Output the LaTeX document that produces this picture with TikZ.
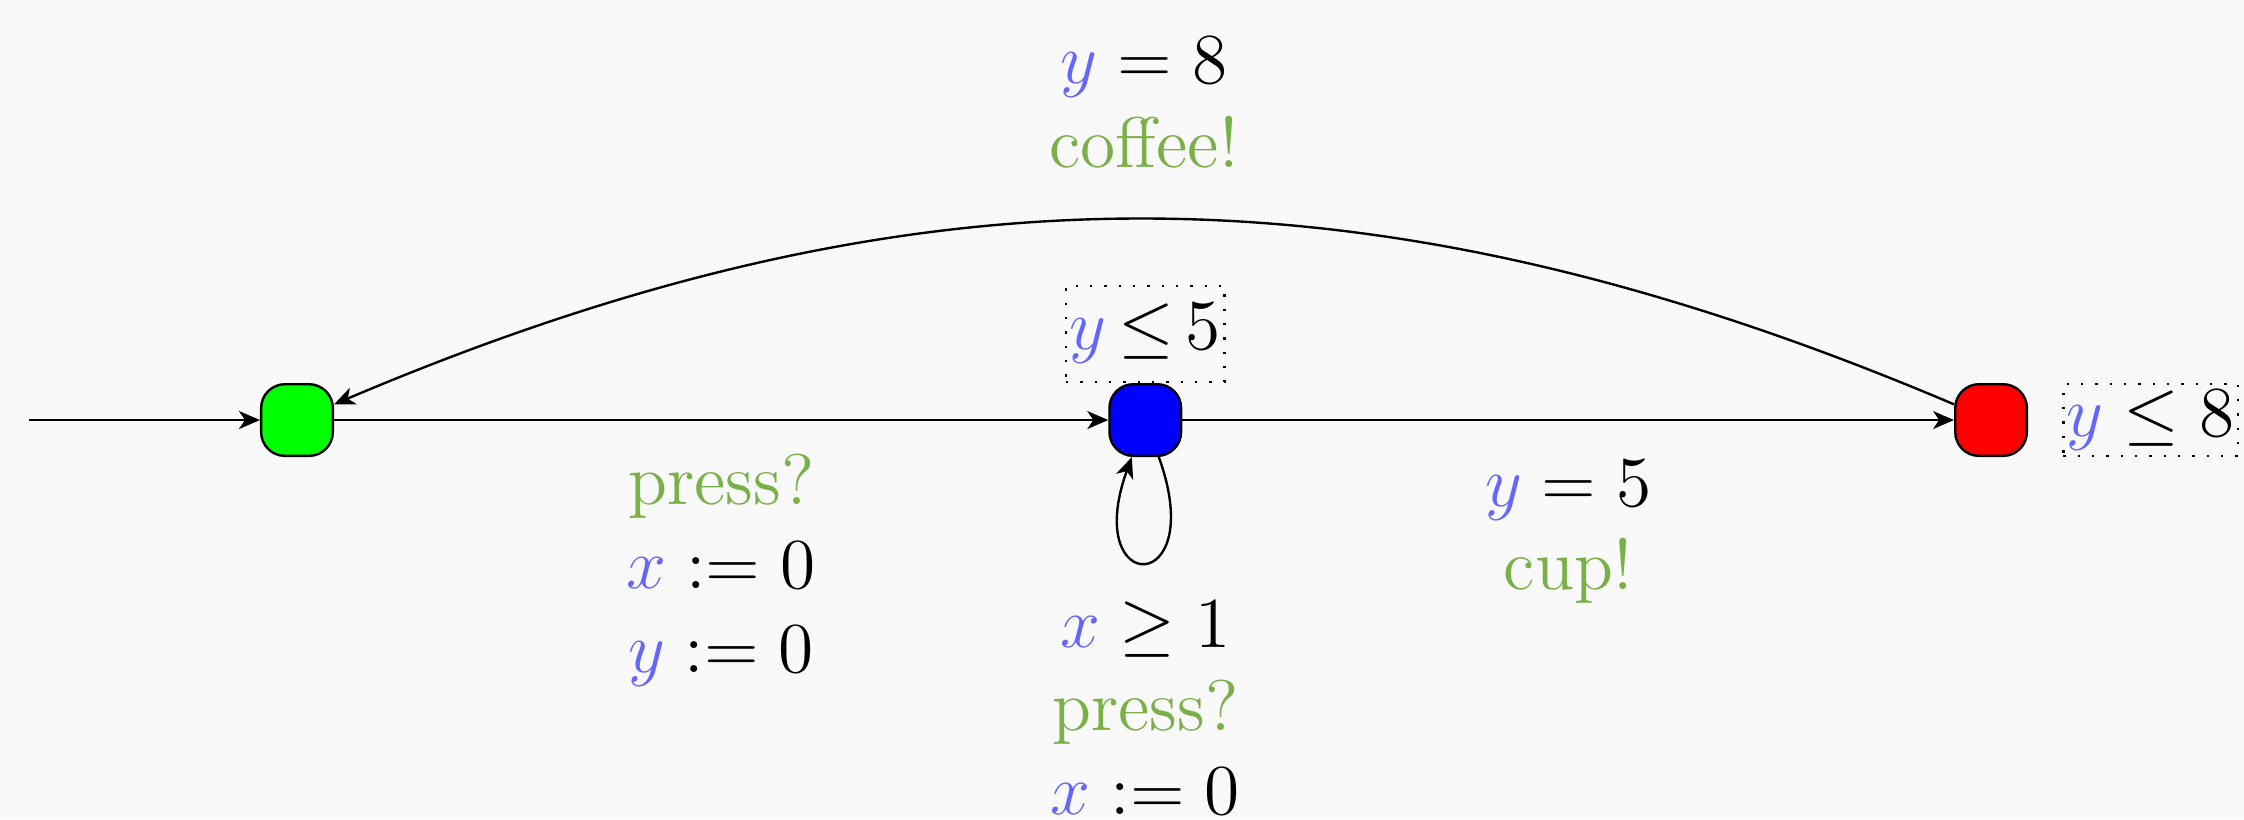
\documentclass[tikz,border=0pt]{standalone}
\usepackage{xcolor}
\usetikzlibrary{arrows.meta, positioning}
\definecolor{bgcol}{RGB}{249,249,249}
\definecolor{varcol}{RGB}{102,102,255}
\definecolor{actcol}{RGB}{122,176,72}
\definecolor{idlecol}{RGB}{0,255,0}
\definecolor{busycol}{RGB}{0,0,255}
\definecolor{brewcol}{RGB}{255,0,0}
\newcommand{\clk}[1]{\textcolor{varcol}{#1}}
\newcommand{\sync}[1]{\textcolor{actcol}{#1}}
\tikzset{
  loc/.style={draw, rounded corners=4pt, minimum size=12pt, inner sep=0pt},
  inv/.style={draw, dotted, inner xsep=0.6pt, inner ysep=1pt},
  guard/.style={align=center, inner sep=0pt}
}
\begin{document}
\begin{tikzpicture}[
    >={Stealth[length=3.5pt, width=3pt, inset=1pt]},
    font=\large
  ]

  % --- canvas -------------------------------------------------------------
  \fill[bgcol] (-1.747,-2.347) rectangle (11.453,2.471);
  \useasboundingbox (-1.747,-2.347) rectangle (11.453,2.471);

  % --- locations ------------------------------------------------------------
  \node[loc, fill=idlecol] (idle) at (0,0) {};
  \node[loc, fill=busycol] (busy) at (4.99,0) {};
  \node[loc, fill=brewcol] (brew) at (9.965,0) {};
  \coordinate (start) at (-1.576,0);

  % --- invariants, dotted boxes ---------------------------------------------
  \node[inv, inner ysep=3pt, above=0pt of busy] (invbusy) {$\clk{y}\mkern-2mu\leq\mkern-2mu 5$};
  \node[inv, right=0.2cm of brew] (invbrew) {$\clk{y} \leq 8$};

  % --- initial arrow and straight edges --------------------------------------
  \draw[->] (start) -- (idle);
  \draw[->] (idle) -- node[guard, below=0.195cm] (lblpress)
    {\sync{press?}\\$\clk{x} := 0$\\$\clk{y} := 0$} (busy);
  \draw[->] (busy) -- node[guard, below=0.227cm] (lblcup)
    {$\clk{y} = 5$\\\sync{cup!}} (brew);

  % --- self loop on busy ---------------------------------------------------
  \draw[->] (busy) to[out=-70, in=-110, looseness=1, min distance=0.88cm]
    node[guard, below=0.22cm] (lblloop)
    {$\clk{x} \geq 1$\\\sync{press?}\\$\clk{x} := 0$} (busy);

  % --- back edge, brew to idle ---------------------------------------------
  \draw[->] (brew) to[bend right=23] node[guard, above=0.294cm] (lblcoffee)
    {$\clk{y} = 8$\\\sync{coffee!}} (idle);

\end{tikzpicture}
\end{document}
